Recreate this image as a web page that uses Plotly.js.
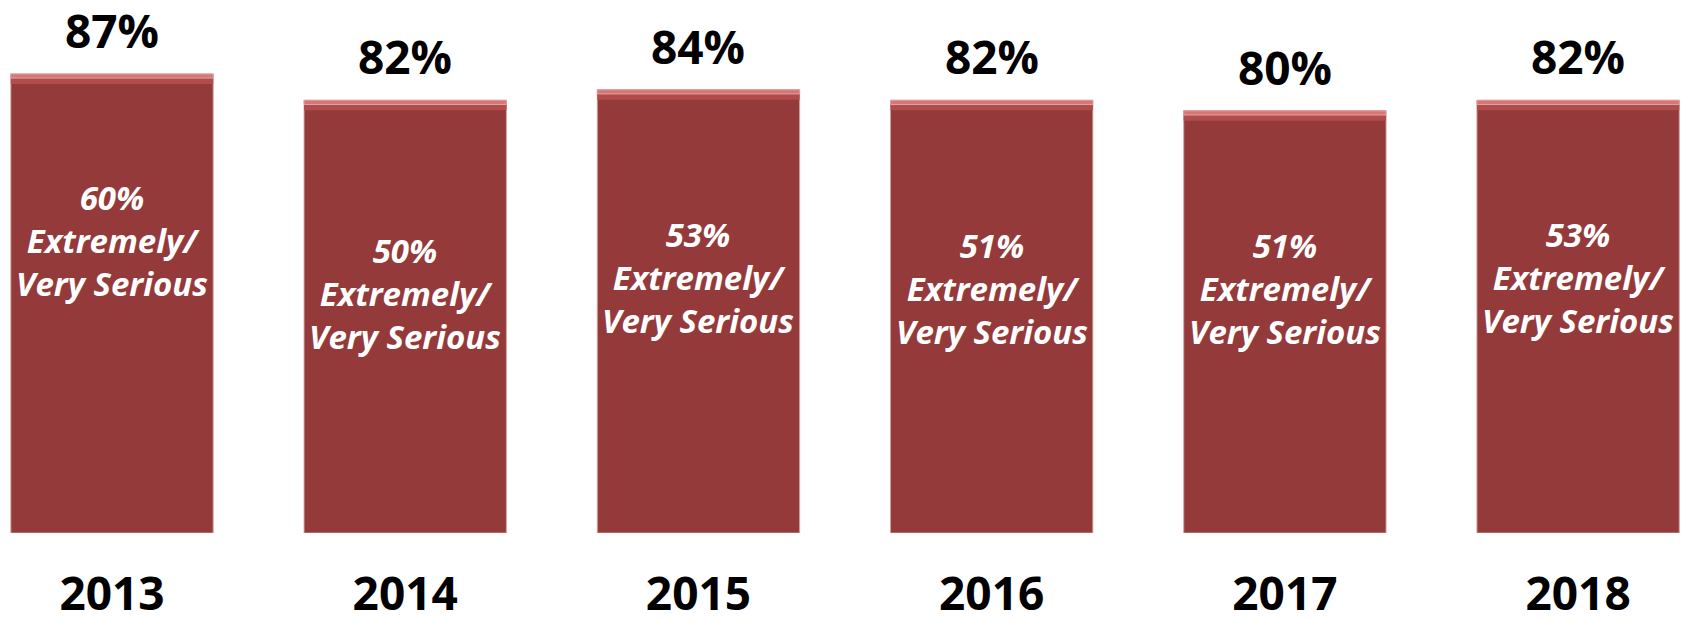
<!DOCTYPE html>
<html>
<head>
<meta charset="utf-8">
<script src="https://cdn.plot.ly/plotly-3.0.1.min.js"></script>
<style>html,body{margin:0;padding:0;background:#fff;}#chart{width:1691px;height:621px;}</style>
</head>
<body>
<div id="chart"></div>
<script>
var years = ['2013', '2014', '2015', '2016', '2017', '2018'];
var totalSerious = [87, 82, 84, 82, 80, 82];
var extremelyVerySerious = [60, 50, 53, 51, 51, 53];
var innerLabelSuffix = 'Extremely/<br>Very Serious';

// style constants
var barColor = '#943a3a';
var bevelOuter = 1.9;   // depth of top bevel (axis units)
var bevelInner = 0.8;

var mainBars = {
  type: 'bar',
  x: years,
  y: totalSerious,
  marker: { color: barColor, line: { color: 'rgba(210,160,160,0.9)', width: 1 } },
  hoverinfo: 'x+y'
};
var bevelBand1 = {
  type: 'bar',
  x: years,
  y: years.map(function () { return bevelOuter; }),
  base: totalSerious.map(function (v) { return v - bevelOuter; }),
  marker: { color: '#b04c4c', line: { width: 0 } },
  hoverinfo: 'skip'
};
var bevelBand2 = {
  type: 'bar',
  x: years,
  y: years.map(function () { return bevelInner; }),
  base: totalSerious.map(function (v) { return v - bevelInner; }),
  marker: { color: '#d97575', line: { color: 'rgba(225,170,170,0.9)', width: 1 } },
  hoverinfo: 'skip'
};

var annotations = [];
years.forEach(function (yr, i) {
  annotations.push({
    x: i, y: totalSerious[i], xref: 'x', yref: 'y',
    text: '<b>' + totalSerious[i] + '%</b>', showarrow: false,
    yanchor: 'bottom', yshift: 11,
    font: { family: 'Open Sans, sans-serif', size: 46, color: '#000' }
  });
  annotations.push({
    x: i, y: extremelyVerySerious[i], xref: 'x', yref: 'y',
    text: '<b><i>' + extremelyVerySerious[i] + '%<br>' + innerLabelSuffix + '</i></b>',
    showarrow: false, yanchor: 'top', yshift: 43,
    font: { family: 'Open Sans, sans-serif', size: 33, color: '#fff' }
  });
});

var layout = {
  width: 1691, height: 621,
  margin: { l: 0, r: 0, t: 0, b: 88, pad: 0 },
  paper_bgcolor: '#fff', plot_bgcolor: '#fff',
  showlegend: false,
  barmode: 'overlay',
  bargap: 0.31,
  xaxis: {
    type: 'category', range: [-0.382, 5.385],
    showgrid: false, zeroline: false, showline: false, ticks: '',
    ticklabelstandoff: 30,
    tickfont: { family: 'Open Sans, sans-serif', size: 46, color: '#000', weight: 'bold' }
  },
  yaxis: { range: [0, 101], visible: false, showgrid: false, zeroline: false },
  annotations: annotations
};

Plotly.newPlot('chart', [mainBars, bevelBand1, bevelBand2], layout, { displayModeBar: false, staticPlot: true });
</script>
</body>
</html>
